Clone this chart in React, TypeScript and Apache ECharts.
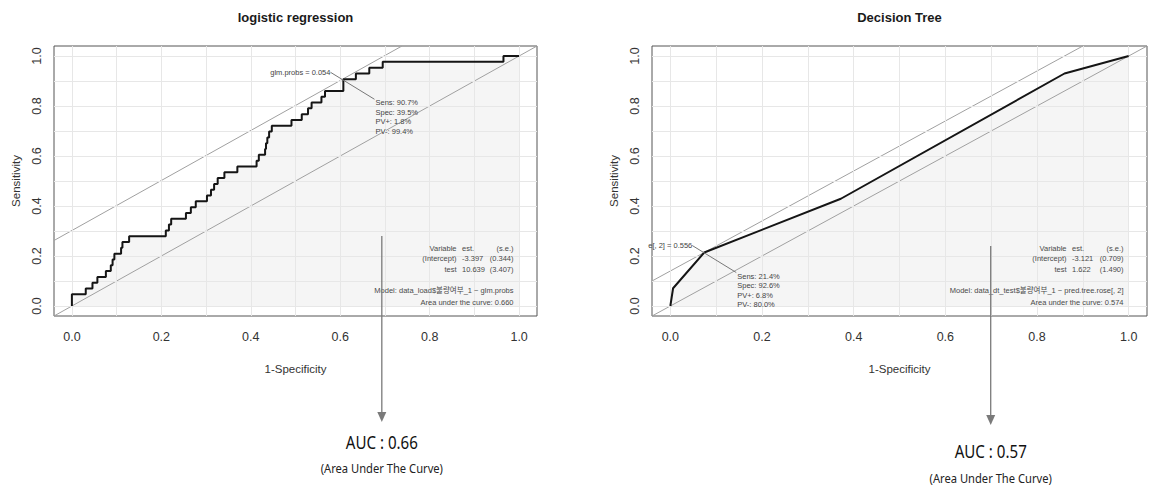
import React, { useEffect, useRef } from 'react';
import * as echarts from 'echarts';

// ---------------- data ----------------
const titles = ['logistic regression', 'Decision Tree'];
const tickValues = [0, 0.2, 0.4, 0.6, 0.8, 1.0];
const gridValues = [0, 0.1, 0.2, 0.3, 0.4, 0.5, 0.6, 0.7, 0.8, 0.9, 1.0];

// logistic regression ROC (1-specificity, sensitivity) step vertices
const lrFpr = [0, 0, 0.031, 0.046, 0.057, 0.076, 0.087, 0.091, 0.095, 0.110, 0.113, 0.128, 0.210, 0.217, 0.222, 0.255, 0.266, 0.277, 0.302, 0.311, 0.318, 0.326, 0.341, 0.370, 0.413, 0.418, 0.432, 0.434, 0.437, 0.441, 0.447, 0.491, 0.514, 0.528, 0.536, 0.558, 0.566, 0.607, 0.635, 0.665, 0.695, 0.965, 1.0];
const lrTpr = [0, 0.047, 0.070, 0.093, 0.116, 0.140, 0.163, 0.186, 0.209, 0.233, 0.256, 0.279, 0.302, 0.326, 0.349, 0.372, 0.395, 0.419, 0.442, 0.465, 0.488, 0.512, 0.535, 0.558, 0.581, 0.605, 0.628, 0.651, 0.674, 0.698, 0.721, 0.744, 0.767, 0.791, 0.814, 0.837, 0.860, 0.907, 0.930, 0.953, 0.977, 1.0, 1.0];

// decision tree ROC
const dtFpr = [0, 0.006, 0.074, 0.372, 0.860, 1.0];
const dtTpr = [0, 0.071, 0.214, 0.429, 0.930, 1.0];

// optimal cut points [1-spec, sens]
const lrOptimal = [0.605, 0.907];
const dtOptimal = [0.074, 0.214];

const lrCutLabel = 'glm.probs = 0.054';
const dtCutLabel = 'e[, 2] = 0.556';
const lrCutInfo = ['Sens: 90.7%', 'Spec: 39.5%', 'PV+: 1.8%', 'PV-: 99.4%'];
const dtCutInfo = ['Sens: 21.4%', 'Spec: 92.6%', 'PV+: 6.8%', 'PV-: 80.0%'];

const lrTable = [
  ['Variable', 'est.', '(s.e.)'],
  ['(Intercept)', '-3.397', '(0.344)'],
  ['test', '10.639', '(3.407)'],
];
const dtTable = [
  ['Variable', 'est.', '(s.e.)'],
  ['(Intercept)', '-3.121', '(0.709)'],
  ['test', '1.622', '(1.490)'],
];
const lrModel = 'Model: data_load$불량여부_1 ~ glm.probs';
const dtModel = 'Model: data_dt_test$불량여부_1 ~ pred.tree.rose[, 2]';
const lrAucText = 'Area under the curve: 0.660';
const dtAucText = 'Area under the curve: 0.574';

const aucBig = ['AUC : 0.66', 'AUC : 0.57'];
const aucSub = '(Area Under The Curve)';
// where the arrow starts, in data units of each panel
const arrowStart = [[0.693, 0.28], [0.699, 0.24]];

// ---------------- layout / style ----------------
const W = 1149;
const H = 488;
const FONT = '"Liberation Sans", Arial, "Noto Sans CJK KR", sans-serif';
const AUCFONT = '"Noto Sans", "Open Sans", sans-serif';
const gridRects = [
  { left: 54, top: 46, width: 483, height: 270 },
  { left: 652, top: 46, width: 495, height: 270 },
];
const arrowTipY = [422, 425];
const aucY = [442, 451];
const aucSubY = [468, 478];

const zip = (a: number[], b: number[]) => a.map((v, i) => [v, b[i]]);

function buildOption() {
  const xAxes: any[] = [];
  const yAxes: any[] = [];
  const series: any[] = [];
  const rocs = [
    { fpr: lrFpr, tpr: lrTpr, step: 'end', opt: lrOptimal },
    { fpr: dtFpr, tpr: dtTpr, step: false, opt: dtOptimal },
  ];
  rocs.forEach((r, gi) => {
    xAxes.push({
      type: 'value', gridIndex: gi, min: -0.04, max: 1.04,
      axisLine: { show: false }, splitLine: { show: false },
      axisTick: { show: true, customValues: tickValues, length: 5, lineStyle: { color: '#555' } },
      axisLabel: {
        show: true, customValues: tickValues, formatter: (v: number) => v.toFixed(1),
        margin: 15, fontSize: 12.5, color: '#333', fontFamily: FONT,
      },
    });
    yAxes.push({
      type: 'value', gridIndex: gi, min: -0.04, max: 1.04,
      axisLine: { show: false }, splitLine: { show: false },
      axisTick: { show: true, customValues: tickValues, length: 5, lineStyle: { color: '#555' } },
      axisLabel: {
        show: true, customValues: tickValues, formatter: (v: number) => v.toFixed(1),
        rotate: 90, margin: 11, fontSize: 12.5, color: '#333', fontFamily: FONT,
      },
    });
    const data = zip(r.fpr, r.tpr);
    // grid lines
    series.push({
      type: 'line', xAxisIndex: gi, yAxisIndex: gi, z: 1, silent: true,
      data: [[0, 0], [1, 1]], symbol: 'none', lineStyle: { opacity: 0 },
      markLine: {
        silent: true, symbol: 'none', label: { show: false },
        lineStyle: { color: '#e7e7e7', type: 'solid', width: 1 },
        emphasis: { disabled: true },
        data: [...gridValues.map((v) => ({ xAxis: v })), ...gridValues.map((v) => ({ yAxis: v }))],
      },
    });
    // area under curve
    series.push({
      type: 'line', xAxisIndex: gi, yAxisIndex: gi, z: 2, silent: true,
      data, step: r.step, symbol: 'none', lineStyle: { width: 0 },
      areaStyle: { color: 'rgba(0,0,0,0.055)', origin: 'auto' },
    });
    // diagonal and parallel line through optimal point
    const c = r.opt[1] - r.opt[0];
    series.push({
      type: 'line', xAxisIndex: gi, yAxisIndex: gi, z: 3, silent: true, clip: true,
      data: [[-0.04, -0.04], [1.04, 1.04]], symbol: 'none',
      lineStyle: { color: '#a0a0a0', width: 1 },
    });
    series.push({
      type: 'line', xAxisIndex: gi, yAxisIndex: gi, z: 3, silent: true, clip: true,
      data: [[-0.04, -0.04 + c], [1.04 - c, 1.04]], symbol: 'none',
      lineStyle: { color: '#a0a0a0', width: 1 },
    });
    // ROC curve
    series.push({
      type: 'line', xAxisIndex: gi, yAxisIndex: gi, z: 5, silent: true,
      data, step: r.step, symbol: 'none',
      lineStyle: { color: '#151515', width: 2 },
    });
  });
  return {
    animation: false,
    backgroundColor: '#ffffff',
    grid: gridRects.map((g) => ({ ...g, show: true, borderColor: '#555', borderWidth: 1, backgroundColor: 'transparent' })),
    xAxis: xAxes,
    yAxis: yAxes,
    series,
  };
}

function buildGraphics(chart: any) {
  const els: any[] = [];
  const panels = [
    { opt: lrOptimal, cut: lrCutLabel, info: lrCutInfo, table: lrTable, model: lrModel, auc: lrAucText },
    { opt: dtOptimal, cut: dtCutLabel, info: dtCutInfo, table: dtTable, model: dtModel, auc: dtAucText },
  ];
  const small = (text: string, x: number, y: number, align: string) => ({
    type: 'text', x, y, z: 10,
    style: { text, fontFamily: FONT, fontSize: 7.5, fill: '#4a4a4a', align, verticalAlign: 'middle' },
  });
  panels.forEach((p, gi) => {
    const px = (x: number, y: number) => chart.convertToPixel({ gridIndex: gi }, [x, y]) as number[];
    const [L, B] = px(-0.04, -0.04);
    const [R, T] = px(1.04, 1.04);
    const cx = (L + R) / 2;
    // title
    els.push({
      type: 'text', x: cx, y: 17,
      style: { text: titles[gi], fontFamily: FONT, fontSize: 13, fontWeight: 'bold', fill: '#1a1a1a', align: 'center', verticalAlign: 'middle' },
    });
    // axis names
    els.push({
      type: 'text', x: L - 38, y: (T + B) / 2, rotation: Math.PI / 2,
      style: { text: 'Sensitivity', fontFamily: FONT, fontSize: 11.5, fill: '#333', align: 'center', verticalAlign: 'middle' },
    });
    els.push({
      type: 'text', x: cx, y: B + 53,
      style: { text: '1-Specificity', fontFamily: FONT, fontSize: 11.5, fill: '#333', align: 'center', verticalAlign: 'middle' },
    });
    // pointer at optimal cut
    const [ox, oy] = px(p.opt[0], p.opt[1]);
    const s = [ox - 12, oy - 7];
    const e = [ox + 32, oy + 20];
    els.push({ type: 'line', shape: { x1: s[0], y1: s[1], x2: e[0], y2: e[1] }, style: { stroke: '#777', lineWidth: 1 }, z: 10 });
    els.push({
      type: 'text', x: s[0], y: s[1], z: 10,
      style: { text: p.cut, fontFamily: FONT, fontSize: 7.5, fill: '#444', align: 'right', verticalAlign: 'middle' },
    });
    els.push({
      type: 'text', x: e[0] + 1, y: e[1] - 1, z: 10,
      style: { text: p.info.join('\n'), fontFamily: FONT, fontSize: 7.5, lineHeight: 9.4, fill: '#444', align: 'left', verticalAlign: 'top' },
    });
    // table: right-aligned names, left-aligned estimates, right-aligned s.e.
    const rowY = [B - 67.5, B - 57.5, B - 47];
    p.table.forEach((row, ri) => {
      els.push(small(row[0], R - 80.5, rowY[ri], 'right'));
      els.push(small(row[1], R - 75, rowY[ri], 'left'));
      els.push(small(row[2], R - 23.5, rowY[ri], 'right'));
    });
    els.push(small(p.model, R - 23.5, B - 26, 'right'));
    els.push(small(p.auc, R - 23.5, B - 14, 'right'));
    // arrow
    const [ax, ay] = px(arrowStart[gi][0], arrowStart[gi][1]);
    const tip = arrowTipY[gi];
    els.push({ type: 'line', shape: { x1: ax, y1: ay, x2: ax, y2: tip - 9 }, style: { stroke: '#7a7a7a', lineWidth: 1.3 }, z: 10 });
    els.push({ type: 'polygon', shape: { points: [[ax - 4.5, tip - 10], [ax + 4.5, tip - 10], [ax, tip]] }, style: { fill: '#7a7a7a' }, z: 10 });
    els.push({
      type: 'text', x: ax, y: aucY[gi], scaleX: 0.84,
      style: { text: aucBig[gi], fontFamily: AUCFONT, fontSize: 18, fill: '#111', align: 'center', verticalAlign: 'middle' },
    });
    els.push({
      type: 'text', x: ax, y: aucSubY[gi], scaleX: 0.86,
      style: { text: aucSub, fontFamily: AUCFONT, fontSize: 13, fill: '#222', align: 'center', verticalAlign: 'middle' },
    });
  });
  return els;
}

export default function App() {
  const ref = useRef<HTMLDivElement>(null);
  useEffect(() => {
    const chart = echarts.init(ref.current as HTMLDivElement, null, { renderer: 'svg', width: W, height: H });
    chart.setOption(buildOption());
    chart.setOption({ graphic: buildGraphics(chart) });
    return () => chart.dispose();
  }, []);
  return <div ref={ref} style={{ position: 'fixed', left: 0, top: 0, width: W, height: H, background: '#fff' }} />;
}
